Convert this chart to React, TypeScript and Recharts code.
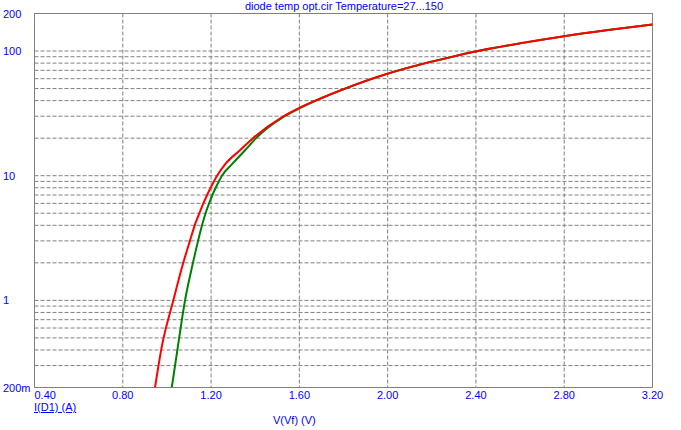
import { LineChart, Line, XAxis, YAxis, CartesianGrid, ReferenceArea } from "recharts";

// I(D1) vs V(Vf), two temperature runs (27 -> green, 150 -> red)
const redV = [0.946, 0.976, 1.029, 1.074, 1.104, 1.126, 1.147, 1.165, 1.182, 1.198, 1.227, 1.266, 1.331, 1.39, 1.524, 1.6, 1.694, 1.815, 1.912, 1.998, 2.162, 2.29, 2.399, 2.6, 2.8, 2.999, 3.2];
const redI = [0.2, 0.42, 1, 2, 3, 4, 5, 6, 7, 8, 10, 12.5, 16, 20, 29.7, 35, 41.5, 50.6, 58.5, 65.7, 79.2, 89.8, 99.1, 115.3, 131.5, 147.4, 163.6];

const greenV = [1.022, 1.049, 1.082, 1.118, 1.141, 1.159, 1.175, 1.191, 1.206, 1.221, 1.249, 1.297, 1.354, 1.404, 1.53, 1.605, 1.694, 1.815, 1.912, 1.998, 2.162, 2.29, 2.399, 2.6, 2.8, 2.999, 3.2];
const greenI = [0.2, 0.42, 1, 2, 3, 4, 5, 6, 7, 8, 10, 12.5, 16, 20, 29.7, 35, 41.4, 50.5, 58.4, 65.6, 79.1, 89.7, 99, 115.2, 131.4, 147.3, 163.5];

const xTicks = [0.4, 0.8, 1.2, 1.6, 2.0, 2.4, 2.8, 3.2];
const yTicks = [
  0.2, 0.3, 0.4, 0.5, 0.6, 0.7, 0.8, 0.9,
  1, 2, 3, 4, 5, 6, 7, 8, 9,
  10, 20, 30, 40, 50, 60, 70, 80, 90,
  100, 200,
];
const yLabels: Record<string, string> = { "0.2": "200m", "1": "1", "10": "10", "100": "100", "200": "200" };

const FONT = '"Liberation Sans", Arial, sans-serif';
const BLUE = "#0000ff";

const redData = redV.map((v, k) => ({ v, i: redI[k] }));
const greenData = greenV.map((v, k) => ({ v, i: greenI[k] }));

function XTick(props: any) {
  const { x, payload, index } = props;
  return (
    <text x={x} y={395} textAnchor={index === 0 ? "start" : "middle"} dominantBaseline="central"
      fill={BLUE} fontSize={11} fontFamily={FONT}>
      {Number(payload.value).toFixed(2)}
    </text>
  );
}

function YTick(props: any) {
  const { y, payload } = props;
  const label = yLabels[String(payload.value)];
  if (!label) return null;
  return (
    <text x={3} y={y} textAnchor="start" dominantBaseline="central" fill={BLUE} fontSize={11} fontFamily={FONT}>
      {label}
    </text>
  );
}

export default function App() {
  return (
    <div style={{ position: "absolute", left: 0, top: 0, width: 681, height: 430, background: "#fff", fontFamily: FONT }}>
      <LineChart width={681} height={430} margin={{ top: 13.5, right: 28.5, left: 0, bottom: 0 }}>
        <CartesianGrid stroke="#808080" strokeDasharray="4 2" />
        <XAxis dataKey="v" type="number" domain={[0.4, 3.2]} ticks={xTicks} height={42.5}
          axisLine={false} tickLine={false} tick={<XTick />} interval={0} allowDataOverflow />
        <YAxis type="number" scale="log" domain={[0.2, 200]} ticks={yTicks} width={34.5}
          axisLine={false} tickLine={false} tick={<YTick />} interval={0} allowDataOverflow />
        <Line data={greenData} dataKey="i" type="monotone" stroke="#008000" strokeWidth={2}
          dot={false} activeDot={false} isAnimationActive={false} />
        <Line data={redData} dataKey="i" type="monotone" stroke="#ff0000" strokeWidth={2}
          dot={false} activeDot={false} isAnimationActive={false} />
        <ReferenceArea x1={0.4} x2={3.2} y1={0.2} y2={200} fill="none" stroke="#808080" strokeWidth={1} ifOverflow="visible" />
      </LineChart>
      <div style={{ position: "absolute", left: 0, width: 688, top: 0, textAlign: "center", fontSize: 11, color: BLUE, lineHeight: "13px" }}>
        diode temp opt.cir Temperature=27...150
      </div>
      <div style={{ position: "absolute", left: 34, top: 401, fontSize: 11, color: BLUE, textDecoration: "underline", lineHeight: "13px" }}>
        I(D1) (A)
      </div>
      <div style={{ position: "absolute", left: 273, top: 414, fontSize: 11, color: BLUE, lineHeight: "13px" }}>
        V(Vf) (V)
      </div>
    </div>
  );
}
